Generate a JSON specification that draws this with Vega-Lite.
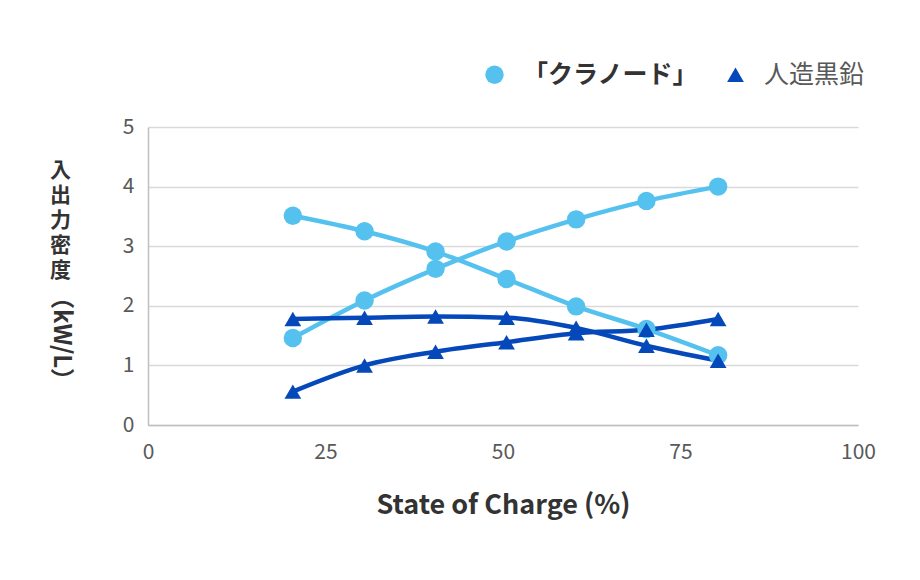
{
  "$schema": "https://vega.github.io/schema/vega-lite/v6.json",
  "width": 710,
  "height": 298,
  "autosize": {"type": "none"},
  "padding": {"left": 148, "top": 127, "right": 62, "bottom": 155},
  "background": "white",
  "data": {
    "values": [
      {"soc": 20.4, "v": 3.51, "m": "「クラノード」", "c": "A1"},
      {"soc": 30.5, "v": 3.25, "m": "「クラノード」", "c": "A1"},
      {"soc": 40.5, "v": 2.91, "m": "「クラノード」", "c": "A1"},
      {"soc": 50.5, "v": 2.45, "m": "「クラノード」", "c": "A1"},
      {"soc": 60.3, "v": 1.99, "m": "「クラノード」", "c": "A1"},
      {"soc": 70.2, "v": 1.61, "m": "「クラノード」", "c": "A1"},
      {"soc": 80.3, "v": 1.17, "m": "「クラノード」", "c": "A1"},
      {"soc": 20.4, "v": 1.46, "m": "「クラノード」", "c": "A2"},
      {"soc": 30.5, "v": 2.09, "m": "「クラノード」", "c": "A2"},
      {"soc": 40.5, "v": 2.62, "m": "「クラノード」", "c": "A2"},
      {"soc": 50.5, "v": 3.08, "m": "「クラノード」", "c": "A2"},
      {"soc": 60.3, "v": 3.45, "m": "「クラノード」", "c": "A2"},
      {"soc": 70.2, "v": 3.76, "m": "「クラノード」", "c": "A2"},
      {"soc": 80.3, "v": 4.0, "m": "「クラノード」", "c": "A2"},
      {"soc": 20.4, "v": 1.78, "m": "人造黒鉛", "c": "B1"},
      {"soc": 30.5, "v": 1.8, "m": "人造黒鉛", "c": "B1"},
      {"soc": 40.5, "v": 1.82, "m": "人造黒鉛", "c": "B1"},
      {"soc": 50.5, "v": 1.8, "m": "人造黒鉛", "c": "B1"},
      {"soc": 60.3, "v": 1.63, "m": "人造黒鉛", "c": "B1"},
      {"soc": 70.2, "v": 1.33, "m": "人造黒鉛", "c": "B1"},
      {"soc": 80.3, "v": 1.08, "m": "人造黒鉛", "c": "B1"},
      {"soc": 20.4, "v": 0.56, "m": "人造黒鉛", "c": "B2"},
      {"soc": 30.5, "v": 1.0, "m": "人造黒鉛", "c": "B2"},
      {"soc": 40.5, "v": 1.23, "m": "人造黒鉛", "c": "B2"},
      {"soc": 50.5, "v": 1.39, "m": "人造黒鉛", "c": "B2"},
      {"soc": 60.3, "v": 1.54, "m": "人造黒鉛", "c": "B2"},
      {"soc": 70.2, "v": 1.6, "m": "人造黒鉛", "c": "B2"},
      {"soc": 80.3, "v": 1.78, "m": "人造黒鉛", "c": "B2"}
    ]
  },
  "encoding": {
    "x": {
      "field": "soc", "type": "quantitative",
      "scale": {"domain": [0, 100], "nice": false},
      "axis": {
        "values": [0, 25, 50, 75, 100],
        "title": "State of Charge (%)",
        "titleFontSize": 27, "titleFontWeight": "bold", "titleColor": "#333333",
        "titlePadding": 30,
        "labelFontSize": 21, "labelColor": "#595959", "labelPadding": 16,
        "labelFlush": false,
        "ticks": false, "grid": false,
        "domainColor": "#bfbfbf", "domainWidth": 1.5
      }
    }
  },
  "layer": [
    {
      "mark": {"type": "line", "interpolate": "monotone", "strokeWidth": 4.5},
      "encoding": {
        "y": {
          "field": "v", "type": "quantitative",
          "scale": {"domain": [0, 5], "nice": false},
          "axis": {
            "orient": "left",
            "values": [0, 1, 2, 3, 4, 5],
            "title": ["入", "出", "力", "密", "度"],
            "titleAngle": 0,
            "titleAlign": "center",
            "titleBaseline": "top",
            "titleX": -88,
            "titleY": 32,
            "titleLineHeight": 25,
            "titleFontSize": 21, "titleFontWeight": "bold", "titleColor": "#333333",
            "labelFontSize": 21, "labelColor": "#595959", "labelPadding": 14,
            "ticks": false,
            "gridColor": "#d9d9d9", "gridWidth": 1.5,
            "domainColor": "#bfbfbf", "domainWidth": 1.5
          }
        },
        "stroke": {
          "field": "c", "type": "nominal",
          "scale": {"domain": ["A1", "A2", "B1", "B2"], "range": ["#55C1EF", "#55C1EF", "#0548BA", "#0548BA"]},
          "legend": null
        }
      }
    },
    {
      "mark": {"type": "point", "filled": true, "opacity": 1},
      "encoding": {
        "y": {"field": "v", "type": "quantitative", "axis": null},
        "color": {
          "field": "m", "type": "nominal",
          "scale": {"domain": ["「クラノード」", "人造黒鉛"], "range": ["#55C1EF", "#0548BA"]},
          "legend": {
            "orient": "none",
            "direction": "horizontal",
            "legendX": 334,
            "legendY": -65,
            "title": null,
            "labelFontSize": 25,
            "labelLimit": 400,
            "labelColor": "#595959",
            "columnPadding": 24,
            "labelOffset": 16,
            "symbolOpacity": 1,
            "encode": {
              "labels": {
                "update": {
                  "fontWeight": {"signal": "datum.label === '「クラノード」' ? 'bold' : 'normal'"},
                  "fill": {"signal": "datum.label === '「クラノード」' ? '#333333' : '#595959'"}
                }
              }
            }
          }
        },
        "shape": {
          "field": "m", "type": "nominal",
          "scale": {"domain": ["「クラノード」", "人造黒鉛"], "range": ["circle", "triangle-up"]}
        },
        "size": {
          "field": "m", "type": "nominal",
          "scale": {"domain": ["「クラノード」", "人造黒鉛"], "range": [340, 280]}
        }
      }
    },
    {
      "mark": {"type": "point", "opacity": 0},
      "encoding": {
        "y": {
          "field": "v", "type": "quantitative",
          "axis": {
            "orient": "left",
            "title": "（kW/L）",
            "titleAngle": 90,
            "titleAlign": "center",
            "titleBaseline": "middle",
            "titleX": -88,
            "titleY": 211,
            "titleFontSize": 24, "titleFontWeight": "bold", "titleColor": "#333333",
            "labels": false, "ticks": false, "domain": false, "grid": false
          }
        }
      }
    }
  ],
  "resolve": {"axis": {"y": "independent"}},
  "config": {
    "view": {"stroke": null},
    "font": "Noto Sans CJK JP"
  }
}
